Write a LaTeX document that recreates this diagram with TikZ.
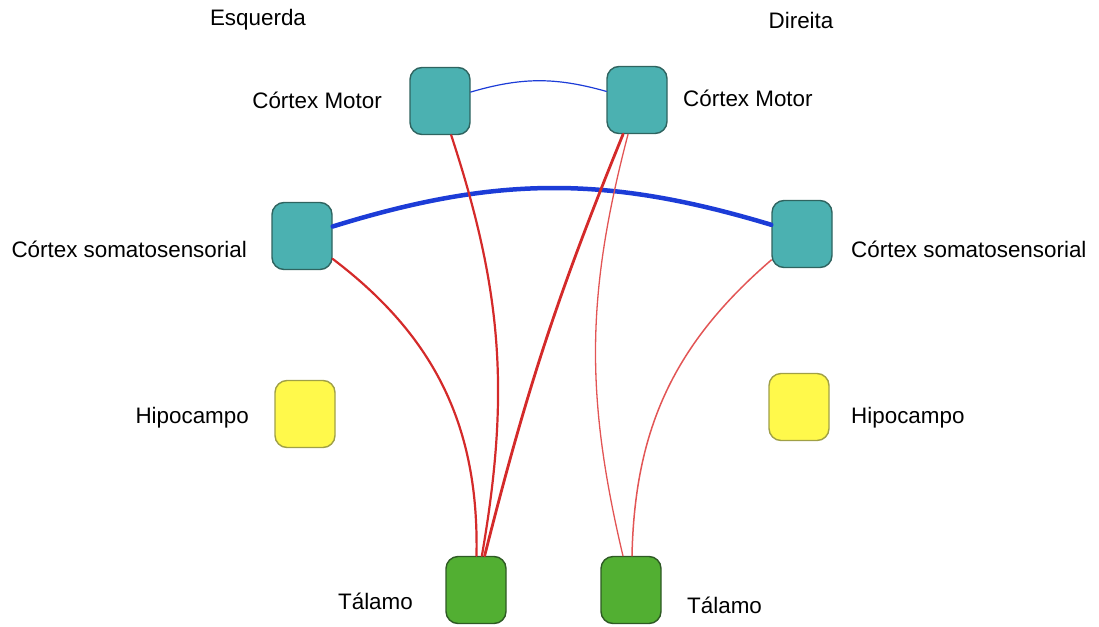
\documentclass[tikz,border=0pt]{standalone}
\usepackage{fontspec}
\setmainfont{Liberation Sans}
\begin{document}
\begin{tikzpicture}[x=1pt,y=1pt,
  region/.style={rounded corners=12pt, minimum width=60pt, minimum height=67pt, line width=1.4pt, inner sep=0pt},
  cortex/.style={region, fill=tealfill, draw=tealline},
  hippo/.style={region, fill=yellowfill, draw=yellowline},
  thal/.style={region, fill=greenfill, draw=greenline},
  lbl/.style={inner sep=0pt, font=\fontsize{22.4}{26}\selectfont},
  link/.style={line cap=round},
]
\definecolor{tealfill}{RGB}{75,177,177}
\definecolor{tealline}{RGB}{47,100,96}
\definecolor{yellowfill}{RGB}{255,249,75}
\definecolor{yellowline}{RGB}{160,160,70}
\definecolor{greenfill}{RGB}{82,175,50}
\definecolor{greenline}{RGB}{46,90,36}
\definecolor{blueedge}{RGB}{28,60,215}
\definecolor{rededge}{RGB}{212,42,42}
\definecolor{lightred}{RGB}{226,85,85}

\useasboundingbox (0,0) rectangle (1099,-626);

% hemisphere headings
\node[lbl] (hl) at (258,-20) {Esquerda};
\node[lbl] (hr) at (801,-20) {Direita};

% regions, left hemisphere
\node[cortex] (ml) at (440,-101) {};
\node[cortex] (sl) at (302,-236) {};
\node[hippo]  (hpl) at (305,-414) {};
\node[thal]   (tl) at (476,-590) {};
% regions, right hemisphere
\node[cortex] (mr) at (637,-100) {};
\node[cortex] (sr) at (802,-234) {};
\node[hippo]  (hpr) at (799,-407) {};
\node[thal]   (tr) at (631,-590) {};

% region names
\node[lbl, anchor=east] (mlt) at (382,-100) {Córtex Motor};
\node[lbl, anchor=west] (mrt) at (683,-98) {Córtex Motor};
\node[lbl, anchor=east] (slt) at (247,-249) {Córtex somatosensorial};
\node[lbl, anchor=west] (srt) at (851,-249) {Córtex somatosensorial};
\node[lbl, anchor=east] (hplt) at (249,-418) {Hipocampo};
\node[lbl, anchor=west] (hprt) at (851,-418) {Hipocampo};
\node[lbl, anchor=east] (tlt) at (413,-601) {Tálamo};
\node[lbl, anchor=west] (trt) at (687,-605) {Tálamo};

% interhemispheric connections
\draw[link, blueedge, line width=1.2pt] (ml) to[bend left=16] (mr);
\draw[link, blueedge, line width=4.5pt] (sl) to[bend left=17] (sr);

% cortico-thalamic connections
\draw[link, rededge, line width=2.2pt] (ml) to[bend left=14] (tl);
\draw[link, rededge, line width=2.8pt] (mr) to[bend right=4] (tl);
\draw[link, lightred, line width=1.3pt] (mr) to[bend right=14] (tr);
\draw[link, rededge, line width=2.2pt] (sl) to[bend left=27] (tl);
\draw[link, lightred, line width=1.5pt] (sr) to[bend right=24] (tr);
\end{tikzpicture}
\end{document}
